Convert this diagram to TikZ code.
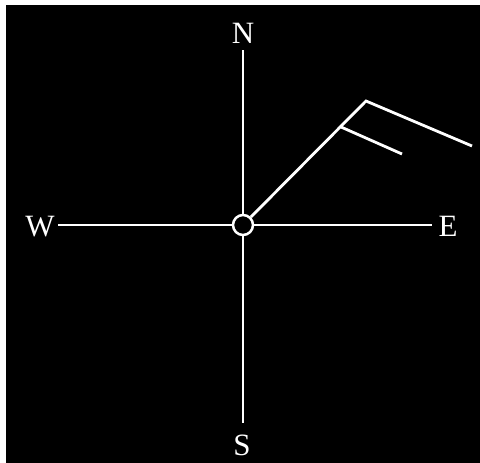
\documentclass[tikz,border=0pt]{standalone}
\usepackage{fontspec}
\setmainfont{Liberation Serif}
\usetikzlibrary{positioning}

\begin{document}
\begin{tikzpicture}[x=1pt, y=-1pt, line width=2.8pt, white,
	dir/.style={font=\fontsize{31}{36}\selectfont, text=white, inner sep=0pt}]
	\useasboundingbox (0,0) rectangle (480,463);
	\fill[white] (0,0) rectangle (480,463);
	\fill[black] (6,5) rectangle (480,463);
	\node[draw, circle, minimum size=20pt, inner sep=0pt, line width=2.5pt] (c) at (243,225) {};
	\coordinate (nend) at (243,50);
	\coordinate (send) at (243,423);
	\coordinate (wend) at (58,225);
	\coordinate (eend) at (432,225);
	\node[dir, anchor=base] (n) at (243,43) {N};
	\node[dir, anchor=base] (s) at (242,455) {S};
	\node[dir, anchor=base] (w) at (40,236) {W};
	\node[dir, anchor=base] (e) at (448,236) {E};
	\draw (c) -- (nend);
	\draw (c) -- (send);
	\draw (c) -- (wend);
	\draw (c) -- (eend);
	% wind barb
	\coordinate (tip) at (366,101);
	\coordinate (barb) at (341,127);
	\coordinate (long) at (472,146);
	\coordinate (short) at (402,154);
	\draw (c) -- (tip) -- (long);
	\draw (barb) -- (short);
\end{tikzpicture}
\end{document}
